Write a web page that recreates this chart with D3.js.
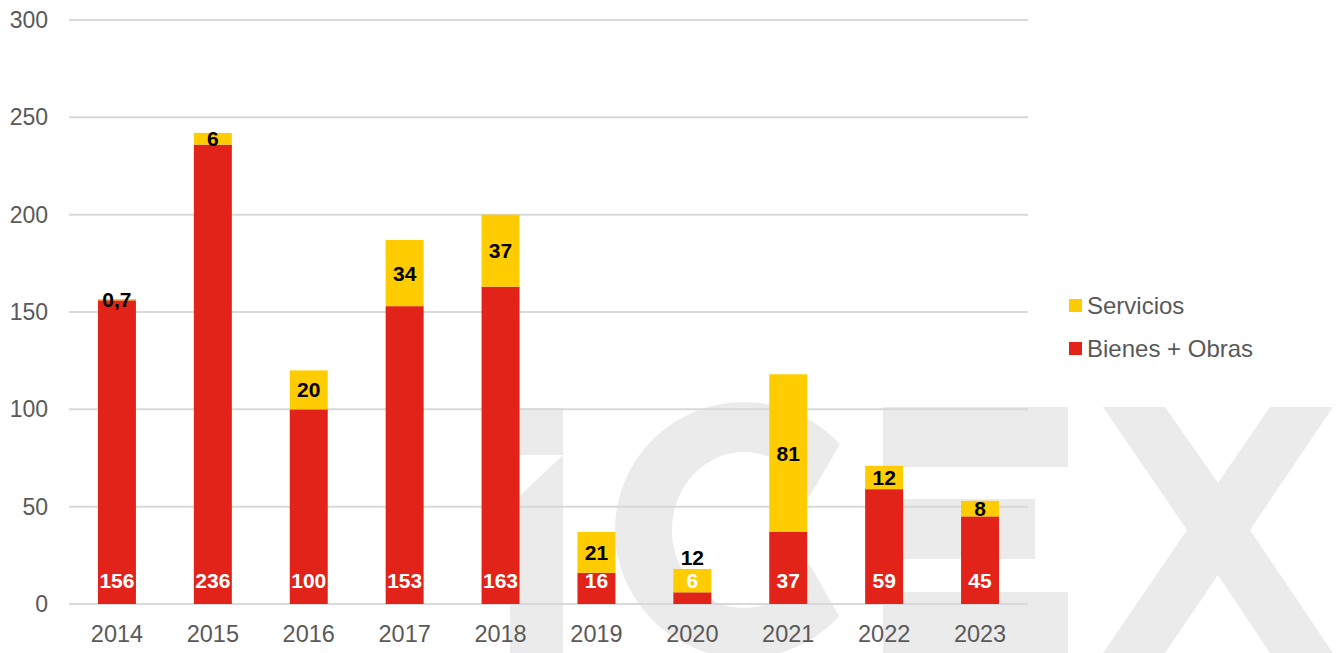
<!DOCTYPE html>
<html>
<head>
<meta charset="utf-8">
<script src="https://cdn.jsdelivr.net/npm/d3@7"></script>
<style>
  html, body { margin: 0; padding: 0; background: #fff; }
  svg { display: block; font-family: "Liberation Sans", Arial, sans-serif; }
</style>
</head>
<body>
<div id="chart"></div>
<script>
// --- Data ---
const years = ["2014", "2015", "2016", "2017", "2018", "2019", "2020", "2021", "2022", "2023"];
const bienesObras = [156, 236, 100, 153, 163, 16, 6, 37, 59, 45];
const servicios = [0.7, 6, 20, 34, 37, 21, 12, 81, 12, 8];
const yTicks = [0, 50, 100, 150, 200, 250, 300];
const seriesNames = ["Servicios", "Bienes + Obras"];

const width = 1340, height = 653;
const red = "#e2231a", yellow = "#ffcc00", grey = "#595959", wm = "#ebebeb";

const svg = d3.select("#chart").append("svg")
  .attr("width", width)
  .attr("height", height);

// --- Scales ---
const x = d3.scaleBand()
  .domain(years)
  .range([69, 1028])
  .paddingInner(0.604)
  .paddingOuter(0.302);

const y = d3.scaleLinear()
  .domain([0, 300])
  .range([604, 20]);

// --- Watermark (icex logo, light grey, behind everything) ---
const mark = svg.append("g");
// i: square dot + stem with slanted top
mark.append("path").attr("fill", wm)
  .attr("d", "M510,408 L563,408 L563,455 L510,455 Z");
mark.append("path").attr("fill", wm)
  .attr("d", "M510,505 L563,455 L563,653 L510,653 Z");
// C: outer ellipse, inner hole, opening on the right
mark.append("ellipse").attr("fill", wm)
  .attr("cx", 744).attr("cy", 530).attr("rx", 129).attr("ry", 128);
mark.append("ellipse").attr("fill", "#fff")
  .attr("cx", 744).attr("cy", 530).attr("rx", 72).attr("ry", 78);
mark.append("path").attr("fill", "#fff")
  .attr("d", "M790,530 L860,410 L880,400 L880,653 L860,653 Z");
// E
mark.append("path").attr("fill", wm)
  .attr("d", "M883,407 L1068,407 L1068,467 L903,467 L903,499 L1035,499 L1035,559 L903,559 L903,592 L1068,592 L1068,653 L883,653 Z");
// X
mark.append("path").attr("fill", wm)
  .attr("d", "M1103,407 L1165,407 L1218,483 L1270,407 L1333,407 L1250,530 L1333,653 L1270,653 L1218,575 L1165,653 L1103,653 L1187,530 Z");

// --- Gridlines ---
svg.append("g")
  .selectAll("line")
  .data(yTicks)
  .join("line")
  .attr("x1", 69)
  .attr("x2", 1028)
  .attr("y1", d => y(d))
  .attr("y2", d => y(d))
  .attr("stroke", "#d9d9d9")
  .attr("stroke-width", 2);

// --- Y axis labels ---
const yAxis = svg.append("g")
  .attr("transform", "translate(48,0)")
  .call(d3.axisLeft(y).tickValues(yTicks).tickSize(0).tickPadding(0));
yAxis.select(".domain").remove();
yAxis.selectAll("text")
  .attr("fill", grey)
  .style("font-size", "23px")
  .style("font-family", "Liberation Sans, Arial, sans-serif");

// --- X axis labels ---
const xAxis = svg.append("g")
  .attr("transform", "translate(0,625)")
  .call(d3.axisBottom(x).tickSize(0).tickPadding(0));
xAxis.select(".domain").remove();
xAxis.selectAll("text")
  .attr("fill", grey)
  .attr("dy", "0.71em")
  .style("font-size", "23.5px")
  .style("font-family", "Liberation Sans, Arial, sans-serif");

// --- Stacked bars ---
const rows = years.map((yr, i) => ({ year: yr, bienes: bienesObras[i], servicios: servicios[i] }));
const stack = d3.stack().keys(["bienes", "servicios"])(rows);
const colors = { bienes: red, servicios: yellow };

svg.append("g")
  .selectAll("g")
  .data(stack)
  .join("g")
  .attr("fill", d => colors[d.key])
  .selectAll("rect")
  .data(d => d)
  .join("rect")
  .attr("x", d => x(d.data.year))
  .attr("width", x.bandwidth())
  .attr("y", d => y(d[1]))
  .attr("height", d => y(d[0]) - y(d[1]));

// --- Data labels ---
const fmt = v => String(v).replace(".", ",");
const labels = svg.append("g")
  .attr("text-anchor", "middle")
  .style("font-weight", "bold")
  .style("font-size", "21px");

// Bienes + Obras: inside base, white
const redLabelY = y(0) - 24;
labels.selectAll("text.red")
  .data(rows)
  .join("text")
  .attr("class", "red")
  .attr("x", d => x(d.year) + x.bandwidth() / 2)
  .attr("y", redLabelY)
  .attr("dy", "0.36em")
  .attr("fill", "#fff")
  .text(d => fmt(d.bienes));

// Servicios: centre of segment, above bar if it would collide with the base label
labels.selectAll("text.yel")
  .data(rows)
  .join("text")
  .attr("class", "yel")
  .attr("x", d => x(d.year) + x.bandwidth() / 2)
  .attr("y", d => {
    const c = y(d.bienes + d.servicios / 2);
    return (redLabelY - c) < 22 ? y(d.bienes + d.servicios) - 12 : c;
  })
  .attr("dy", "0.36em")
  .attr("fill", "#000")
  .text(d => fmt(d.servicios));

// --- Legend ---
const legend = svg.append("g")
  .selectAll("g")
  .data(seriesNames)
  .join("g")
  .attr("transform", (d, i) => `translate(1069,${299 + i * 43})`);
legend.append("rect")
  .attr("width", 13)
  .attr("height", 13)
  .attr("fill", (d, i) => i === 0 ? yellow : red);
legend.append("text")
  .attr("x", 18)
  .attr("y", 6.5)
  .attr("dy", "0.36em")
  .attr("fill", grey)
  .style("font-size", "24px")
  .text(d => d);
</script>
</body>
</html>
